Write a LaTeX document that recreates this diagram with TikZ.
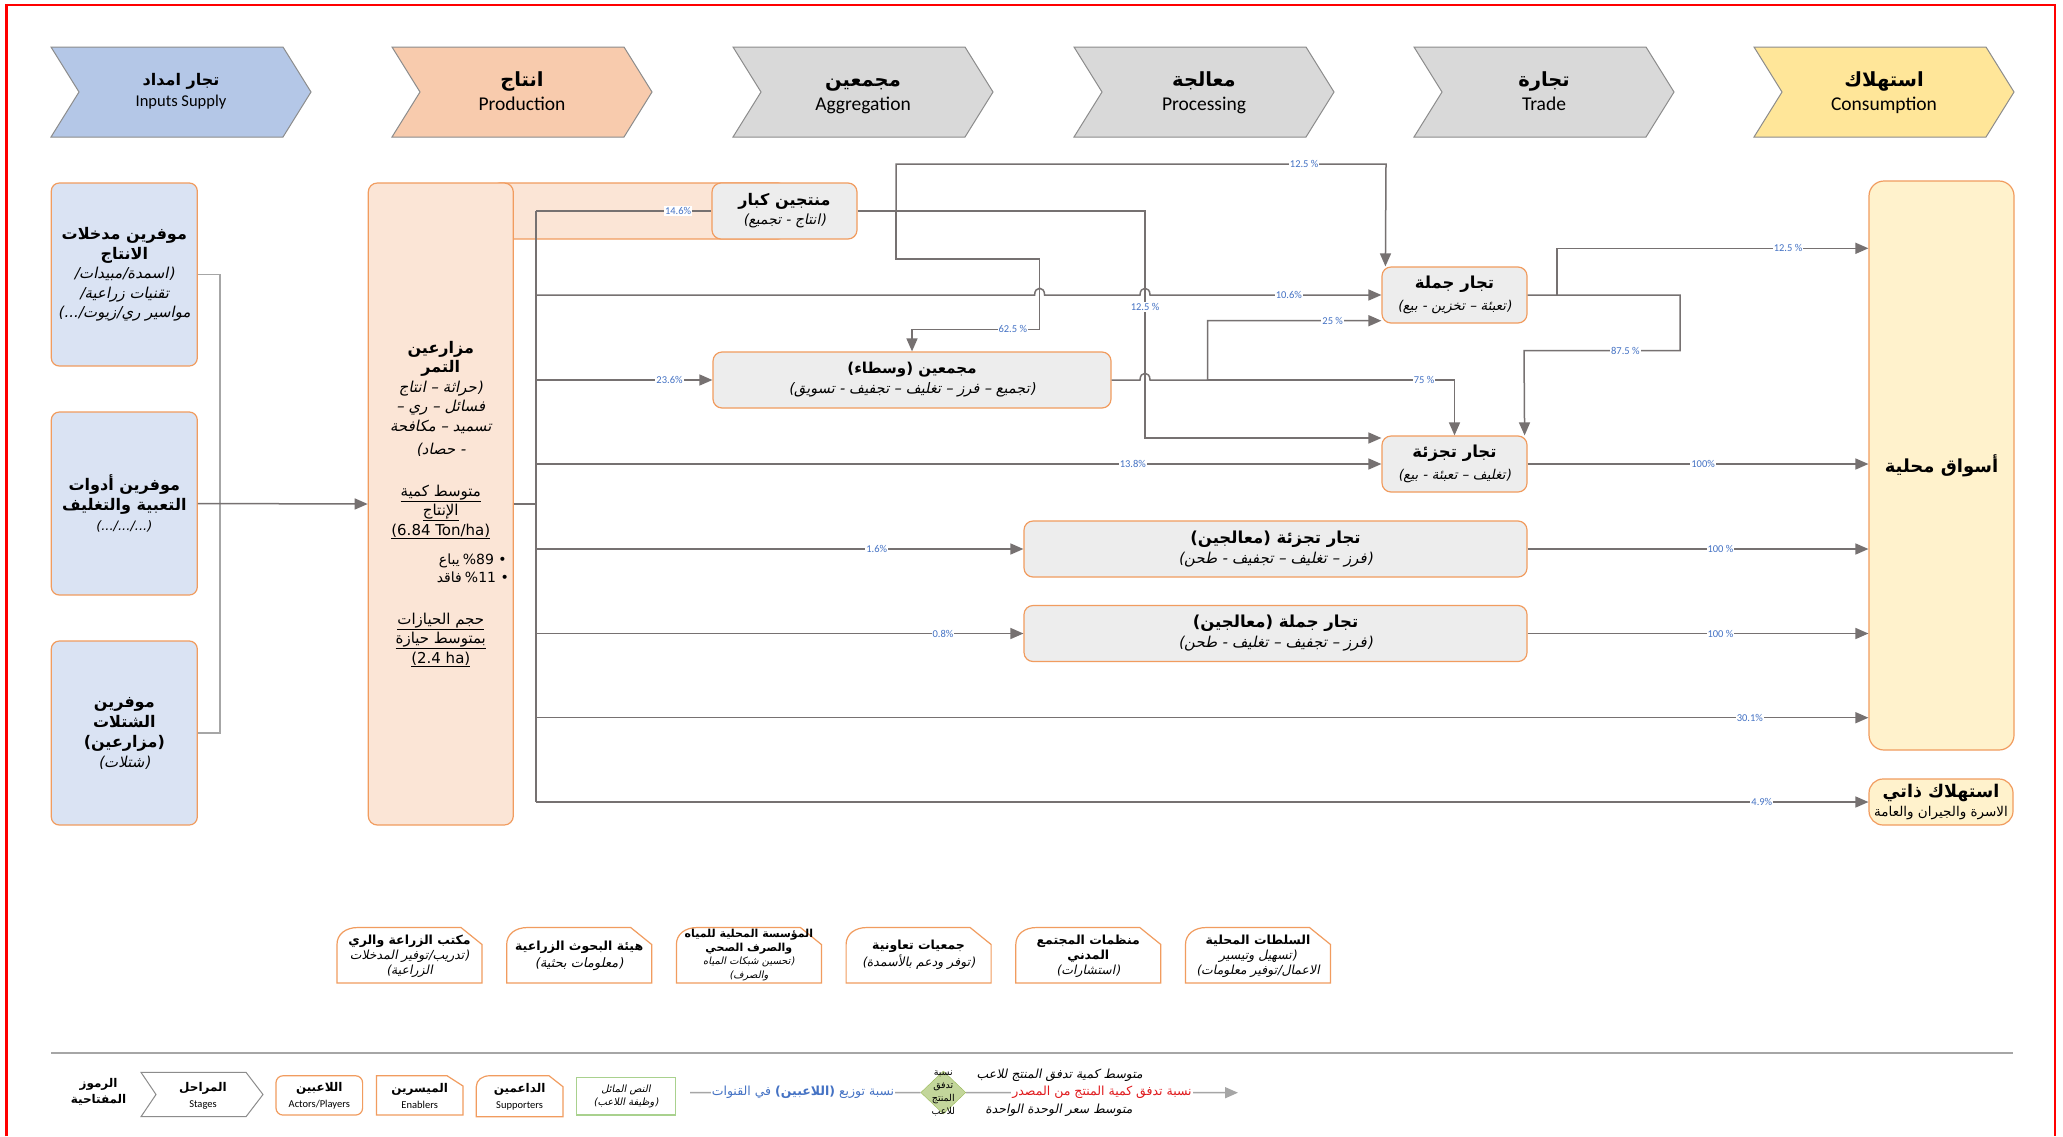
\documentclass[tikz,border=0pt]{standalone}
\usepackage{fontspec}
\setmainfont{Carlito}
\newfontfamily\arabicfont[Script=Arabic]{DejaVu Sans}
\newfontfamily\arabicit[Script=Arabic,FakeSlant=0.2]{DejaVu Sans}
\newfontfamily\dejavu{DejaVu Sans}
\TeXXeTstate=1
\usetikzlibrary{arrows.meta,shapes.geometric}
\newcommand\ARr[1]{{\arabicfont\beginR #1\endR}}
\newcommand\ARb[1]{{\arabicfont\bfseries\beginR #1\endR}}
\newcommand\ARi[1]{{\arabicit\beginR #1\endR}}
\newcommand\FS[2]{\fontsize{#1}{#2}\selectfont}
\definecolor{orB}{HTML}{F19C5F}
\definecolor{blueF}{HTML}{DAE3F3}
\definecolor{peach}{HTML}{FBE5D6}
\definecolor{grayF}{HTML}{EDEDED}
\definecolor{yelF}{HTML}{FFF2CC}
\definecolor{lineC}{HTML}{767171}
\definecolor{lineL}{HTML}{A6A6A6}
\definecolor{labC}{HTML}{4472C4}
\definecolor{hdBlue}{HTML}{B4C7E7}
\definecolor{hdPeach}{HTML}{F8CBAD}
\definecolor{hdGray}{HTML}{D9D9D9}
\definecolor{hdYel}{HTML}{FFE699}
\definecolor{hdB}{HTML}{8C8C8C}
\definecolor{frameR}{HTML}{FF0000}
\definecolor{greenB}{HTML}{A9D18E}
\definecolor{diaF}{HTML}{C3D69B}
\definecolor{diaB}{HTML}{9BBB59}
\definecolor{redT}{HTML}{E0191C}
\newcommand\chevshape[2]{\filldraw[fill=#2, draw=hdB, line width=1pt] (#1,47) -- ++(232,0) -- ++(28,45) -- ++(-28,45) -- ++(-232,0) -- ++(28,-45) -- cycle;}
% x0,y0,w,h,cx,cy
\newcommand\suppshape[6]{\filldraw[fill=white, draw=orB, line width=1.2pt] (#1,#2+#4) -- (#1,#2+#6) .. controls (#1,#2+0.4*#6) and (#1+0.4*#5,#2) .. (#1+#5,#2) -- (#1+#3-#5,#2) -- (#1+#3,#2+#6) -- (#1+#3,#2+#4) -- cycle;}
\tikzset{
  hdtext/.style={anchor=base, inner sep=0pt},
  inbox/.style={draw=orB, fill=blueF, rounded corners=8pt, line width=1.2pt, align=center, inner sep=0pt, minimum width=146pt},
  actor/.style={draw=orB, fill=grayF, rounded corners=9pt, line width=1.2pt, align=center, inner sep=0pt, minimum height=56pt},
  mkt/.style={draw=orB, fill=yelF, rounded corners=15pt, line width=1.2pt, align=center, inner sep=0pt},
  flow/.style={draw=lineC, line width=1.5pt, -{Triangle[length=13pt,width=11pt]}},
  plain/.style={draw=lineC, line width=1.5pt},
  plainL/.style={draw=lineL, line width=1.5pt},
  lab/.style={fill=white, text=labC, font=\FS{10.5}{12}, inner sep=1pt},
  supt/.style={align=center, inner sep=0pt, font=\FS{12.5}{15}},
  lgt/.style={align=center, inner sep=0pt, font=\FS{12}{16}}
}
\begin{document}
\begin{tikzpicture}[x=1pt,y=-1pt]
\useasboundingbox (0,0) rectangle (2063,1136);
\fill[white] (0,0) rectangle (2063,1136);
\draw[frameR, line width=2.5pt] (6.5,1136) -- (6.5,5) -- (2055,5) -- (2055,1136);

% ---------- stage headers
\chevshape{51}{hdBlue}
\chevshape{392}{hdPeach}
\chevshape{733}{hdGray}
\chevshape{1074}{hdGray}
\chevshape{1414}{hdGray}
\chevshape{1754}{hdYel}
\node[hdtext, font=\FS{16}{20}] (h1a) at (181,85) {\ARb{تجار امداد}};
\node[hdtext, font=\FS{16.5}{20}] (h1b) at (181,106) {Inputs Supply};
\node[hdtext, font=\FS{19.5}{24}] (h2a) at (522,86) {\ARb{انتاج}};
\node[hdtext, font=\FS{19.5}{24}] (h2b) at (522,110) {Production};
\node[hdtext, font=\FS{19.5}{24}] (h3a) at (863,86) {\ARb{مجمعين}};
\node[hdtext, font=\FS{19.5}{24}] (h3b) at (863,110) {Aggregation};
\node[hdtext, font=\FS{19.5}{24}] (h4a) at (1204,86) {\ARb{معالجة}};
\node[hdtext, font=\FS{19.5}{24}] (h4b) at (1204,110) {Processing};
\node[hdtext, font=\FS{19.5}{24}] (h5a) at (1544,86) {\ARb{تجارة}};
\node[hdtext, font=\FS{19.5}{24}] (h5b) at (1544,110) {Trade};
\node[hdtext, font=\FS{19.5}{24}] (h6a) at (1884,86) {\ARb{استهلاك}};
\node[hdtext, font=\FS{19.5}{24}] (h6b) at (1884,110) {Consumption};

% ---------- input suppliers
\node[inbox, minimum height=183pt, font=\FS{15}{19.5}] (s1) at (124.3,274.5)
  {{\FS{16}{19.5}\ARb{موفرين مدخلات}}\\{\FS{16}{19.5}\ARb{الانتاج}}\\\ARi{(اسمدة/مبيدات/}\\\ARi{تقنيات زراعية/}\\\ARi{مواسير ري/زيوت/...)}};
\node[inbox, minimum height=183pt, font=\FS{16}{20}] (s2) at (124.3,503.5)
  {\ARb{موفرين أدوات}\\\ARb{التعبية والتغليف}\\{\dejavu\itshape\FS{13}{20}(.../.../...)}};
\node[inbox, minimum height=184pt, font=\FS{16}{20}] (s3) at (124.3,733)
  {\ARb{موفرين}\\\ARb{الشتلات}\\\ARb{(مزارعين)}\\{\FS{15}{20}\ARi{(شتلات)}}};

% ---------- producers
\draw[fill=peach, draw=orB, rounded corners=8pt, line width=1.2pt] (492,183) rectangle (786,239);
\node[draw=orB, fill=peach, rounded corners=9pt, line width=1.2pt, align=center, inner sep=0pt,
      minimum width=145pt, minimum height=642pt, font=\FS{15}{19.5}] (farm) at (440.8,504)
  {{\FS{16}{19.5}\ARb{مزارعين}}\\{\FS{16}{19.5}\ARb{التمر}}\\\ARi{(حراثة – انتاج}\\\ARi{فسائل – ري –}\\\ARi{تسميد – مكافحة}\\[4pt]
   \ARi{- حصاد)}\\[22pt]
   \underline{\ARr{متوسط كمية}}\\\underline{\ARr{الإنتاج}}\\\underline{{\dejavu (6.84 Ton/ha)}}\\[10pt]
   \hspace*{64pt}{\FS{14}{19.5}\ARr{يباع}\ {\dejavu \%89\ \textbullet}}\\[-1.5pt]
   \hspace*{64pt}{\FS{14}{19.5}\ARr{فاقد}\ {\dejavu \%11\ \textbullet}}\\[22pt]
   \underline{\ARr{حجم الحيازات}}\\\underline{\ARr{بمتوسط حيازة}}\\\underline{{\dejavu (2.4 ha)}}};
\node[actor, minimum width=145pt, font=\FS{16}{19}] (big) at (784.5,211)
  {\ARb{منتجين كبار}\\{\FS{14}{19}\ARi{(انتاج - تجميع)}}};

% ---------- chain actors
\node[actor, minimum width=398pt, font=\FS{15}{20}] (agg) at (912,380)
  {\ARb{مجمعين (وسطاء)}\\{\FS{14.5}{20}\ARi{(تجميع – فرز – تغليف – تجفيف - تسويق)}}};
\node[actor, minimum width=145pt, font=\FS{16.5}{22}] (ws) at (1454.5,295)
  {\ARb{تجار جملة}\\{\FS{13.5}{22}\ARi{(تعبئة – تخزين - بيع)}}};
\node[actor, minimum width=145pt, font=\FS{16.5}{22}] (rt) at (1454.5,464)
  {\ARb{تجار تجزئة}\\{\FS{13.5}{22}\ARi{(تغليف – تعبئة - بيع)}}};
\node[actor, minimum width=503pt, font=\FS{16.5}{20}] (prt) at (1275.5,549)
  {\ARb{تجار تجزئة (معالجين)}\\{\FS{15}{20}\ARi{(فرز – تغليف – تجفيف - طحن)}}};
\node[actor, minimum width=503pt, font=\FS{16.5}{20}] (pws) at (1275.5,633.5)
  {\ARb{تجار جملة (معالجين)}\\{\FS{15}{20}\ARi{(فرز – تجفيف – تغليف - طحن)}}};
\node[mkt, minimum width=145pt, minimum height=569pt, font=\FS{18}{22}] (mk) at (1941.5,465.5) {\ARb{أسواق محلية}};
\node[mkt, rounded corners=14pt, minimum width=144pt, minimum height=46pt, font=\FS{17.5}{19}] (self) at (1941,802)
  {\ARb{استهلاك ذاتي}\\{\FS{13.5}{18}\ARr{الاسرة والجيران والعامة}}};

% ---------- supplier connectors
\coordinate (sv) at (220,504);
\draw[plainL] (s1.east) -- (sv |- s1.east) -- (sv |- s3.east) -- (s3.east);
\draw[flow] (s2.east) -- (farm.west);

% ---------- distribution trunk
\coordinate (trunk) at (536,504);
\draw[plain] (farm.east) -- (trunk);
\draw[plain] (trunk |- big.west) -- (trunk |- self.west);
\draw[plain] (trunk |- big.west) -- node[lab,pos=0.81]{14.6\%} (big.west);
\draw[flow] (trunk |- ws.west) -- (1034.6,295) .. controls (1034.6,286) and (1044.6,286) .. (1044.6,295)
  -- (1140,295) .. controls (1140,286) and (1150,286) .. (1150,295) -- node[lab,pos=0.6]{10.6\%} (ws.west);
\draw[flow] (trunk |- agg.west) -- node[lab,pos=0.757]{23.6\%} (agg.west);
\draw[flow] (trunk |- rt.west) -- node[lab,pos=0.706]{13.8\%} (rt.west);
\draw[flow] (trunk |- prt.west) -- node[lab,pos=0.699]{1.6\%} (prt.west);
\draw[flow] (trunk |- pws.west) -- node[lab,pos=0.835]{0.8\%} (pws.west);
\coordinate (y301) at (536,717.7);
\draw[flow] (y301) -- node[lab,pos=0.911]{30.1\%} (mk.west |- y301);
\draw[flow] (trunk |- self.west) -- node[lab,pos=0.92]{4.9\%} (self.west);

% ---------- large producers outputs
\coordinate (j1) at (896,211);
\coordinate (j2) at (1145,211);
\draw[flow] (big.east) -- (j2) -- node[lab,pos=0.423]{12.5 \%} (1145,438) -- ([yshift=26pt]rt.west);
\draw[flow] (j1) -- (896,164) -- node[lab,pos=0.833]{12.5 \%} (1386,164) -- ([xshift=4pt]ws.north west);
\draw[flow] (j1) -- (896,259) -- (1039.6,259) -- (1039.6,329.3) -- node[lab,pos=0.21]{62.5 \%} (912,329.3) -- (agg.north);

% ---------- aggregators outputs
\coordinate (j3) at (1207.5,380);
\draw[flow] (agg.east) -- (1140,380) .. controls (1140,371) and (1150,371) .. (1150,380) -- (j3) -- (1207.5,320.7)
  -- node[lab,pos=0.72]{25 \%} ([yshift=-25.7pt]ws.west);
\draw[flow] (j3) -- node[lab,pos=0.877]{75 \%} (1454.5,380) -- (rt.north);

% ---------- wholesalers outputs
\coordinate (j4) at (1557,295);
\draw[flow] (ws.east) -- (1680,295) -- (1680,350.7) -- node[lab,pos=0.35]{87.5 \%} (1524,350.7) -- ([xshift=-3pt]rt.north east);
\coordinate (c125) at (1557,248.3);
\draw[flow] (j4) -- (c125) -- node[lab,pos=0.742]{12.5 \%} (mk.west |- c125);

% ---------- retail / processors outputs
\draw[flow] (rt.east) -- node[lab,pos=0.515]{100\%} (mk.west |- rt.east);
\draw[flow] (prt.east) -- node[lab,pos=0.566]{100 \%} (mk.west |- prt.east);
\draw[flow] (pws.east) -- node[lab,pos=0.566]{100 \%} (mk.west |- pws.east);

% ---------- supporters
\suppshape{337}{927.5}{145}{55.5}{21}{17}
\suppshape{506.7}{927.5}{145}{55.5}{21}{17}
\suppshape{676.4}{927.5}{145}{55.5}{21}{17}
\suppshape{846.1}{927.5}{145}{55.5}{21}{17}
\suppshape{1015.8}{927.5}{145}{55.5}{21}{17}
\suppshape{1185.5}{927.5}{145}{55.5}{21}{17}
\node[supt] (sp1) at (409.5,956) {\ARb{مكتب الزراعة والري}\\{\FS{12.5}{15}\ARi{(تدريب/توفير المدخلات}}\\{\FS{12.5}{15}\ARi{الزراعية)}}};
\node[supt] (sp2) at (579.2,956) {\ARb{هيئة البحوث الزراعية}\\[2pt]{\FS{13}{15}\ARi{(معلومات بحثية)}}};
\node[supt, font=\FS{11}{13.5}] (sp3) at (748.9,955) {\ARb{المؤسسة المحلية للمياه}\\\ARb{والصرف الصحي}\\{\FS{10}{13}\ARi{(تحسين شبكات المياه}}\\{\FS{10}{13}\ARi{والصرف)}}};
\node[supt] (sp4) at (918.6,955) {\ARb{جمعيات تعاونية}\\[2pt]{\FS{12.5}{15}\ARi{(توفر ودعم بالأسمدة)}}};
\node[supt] (sp5) at (1088.3,956) {\ARb{منظمات المجتمع}\\\ARb{المدني}\\{\FS{12.5}{15}\ARi{(استشارات)}}};
\node[supt] (sp6) at (1258,956) {\ARb{السلطات المحلية}\\{\FS{12.5}{15}\ARi{(تسهيل وتيسير}}\\{\FS{12.5}{15}\ARi{الاعمال/توفير معلومات)}}};

% ---------- legend
\draw[line width=2pt, draw=lineL] (51,1053) -- (2013,1053);
\node[lgt] (lgk) at (98.6,1091.5) {\ARb{الرموز}\\\ARb{المفتاحية}};
\filldraw[fill=white, draw=hdB, line width=1pt] (141,1072.3) -- (246,1072.3) -- (263,1094.5) -- (246,1116.7) -- (141,1116.7) -- (156,1094.5) -- cycle;
\node[lgt] (lgst) at (203,1096) {\ARb{المراحل}\\{\FS{10.5}{16}Stages}};
\node[draw=orB, fill=white, rounded corners=7pt, line width=1.2pt, minimum width=86.6pt, minimum height=39.3pt, lgt] (lgac) at (319.3,1095.4) {\ARb{اللاعبين}\\{\FS{10.5}{16}Actors/Players}};
\filldraw[fill=white, draw=orB, line width=1.2pt] (376.4,1115) -- (376.4,1075.7) -- (447,1075.7) -- (463,1086) -- (463,1115) -- cycle;
\node[lgt] (lgen) at (419.7,1096) {\ARb{الميسرين}\\{\FS{10.5}{16}Enablers}};
\suppshape{476.3}{1075.7}{86.7}{41}{14}{11}
\node[lgt] (lgsu) at (519.6,1097) {\ARb{الداعمين}\\{\FS{10.5}{16}Supporters}};
\node[draw=greenB, line width=1.2pt, minimum width=98.6pt, minimum height=37.3pt, lgt, font=\FS{10}{13}] (lgit) at (626,1096.4) {\ARi{النص المائل}\\\ARi{(وظيفة اللاعب)}};
\node[diamond, draw=diaB, fill=diaF, minimum width=45pt, minimum height=43pt, inner sep=0pt] (dia) at (943.3,1092.5) {};
\node[align=center, inner sep=0pt, font=\FS{9.5}{12.9}] (diat) at (943.3,1093.4) {\ARr{نسبة}\\\ARr{تدفق}\\\ARr{المنتج}\\\ARr{للاعب}};
\coordinate (lgs) at (690,1092.7);
\draw[plainL] (lgs) -- node[fill=white, text=labC, inner sep=1pt, pos=0.49, font=\FS{12.5}{14}]
  {{\arabicfont\beginR نسبة توزيع {\bfseries (اللاعبين)} في القنوات\endR}} (dia.west);
\coordinate (lge) at (1238,1092.7);
\draw[flow, draw=lineL] (dia.east) -- node[fill=white, text=redT, inner sep=1pt, pos=0.5, font=\FS{12.5}{14}]
  {\ARr{نسبة تدفق كمية المنتج من المصدر}} (lge);
\node[inner sep=0pt, font=\FS{12.5}{14}] (lgq) at (1059.7,1075) {\ARi{متوسط كمية تدفق المنتج للاعب}};
\node[inner sep=0pt, font=\FS{12.5}{14}] (lgp) at (1058.9,1110.7) {\ARi{متوسط سعر الوحدة الواحدة}};
\end{tikzpicture}
\end{document}
